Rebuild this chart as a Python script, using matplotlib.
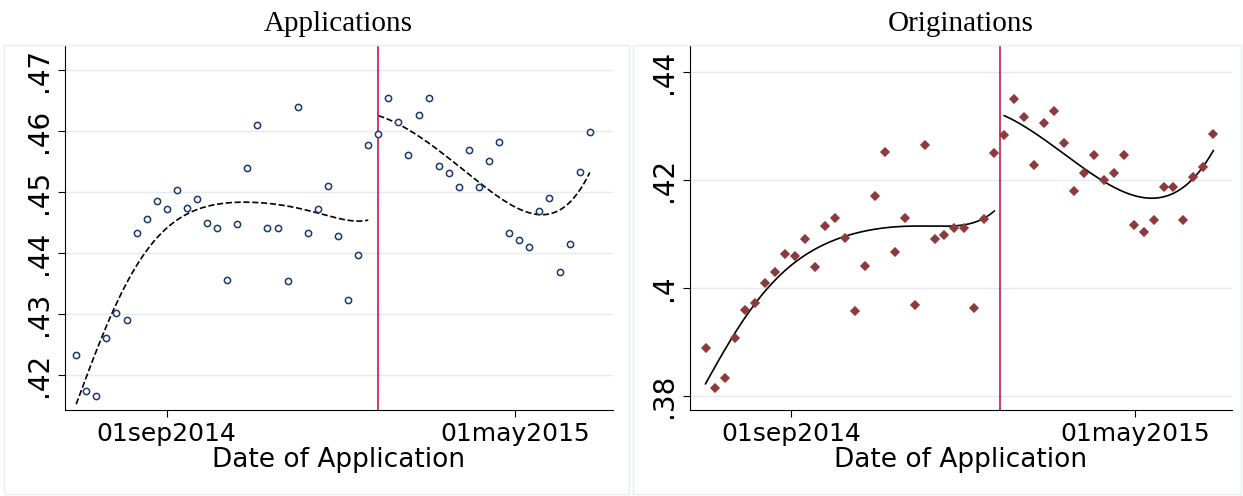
import numpy as np
import pandas as pd
import matplotlib
matplotlib.use("Agg")
import matplotlib.pyplot as plt
from matplotlib.patches import Rectangle

# weekly observations
app_dates = pd.date_range("2014-06-30", periods=52, freq="7D")
app_vals = [.4233, .4175, .4167, .4261, .4302, .4290, .4434, .4457, .4485, .4472,
            .4503, .4475, .4489, .4449, .4441, .4356, .4448, .4539, .4610, .4441,
            .4441, .4354, .4639, .4433, .4472, .4511, .4428, .4323, .4397, .4577,
            .4595, .4654, .4615, .4561, .4626, .4654, .4543, .4531, .4508, .4569,
            .4508, .4552, .4582, .4433, .4421, .4411, .4470, .4490, .4369, .4415,
            .4533, .4598]

org_dates = pd.date_range("2014-07-03", periods=52, freq="7D")
org_vals = [.3889, .3815, .3833, .3907, .3959, .3972, .4009, .4030, .4063, .4059,
            .4091, .4039, .4115, .4130, .4093, .3957, .4041, .4170, .4252, .4067,
            .4130, .3969, .4265, .4091, .4098, .4111, .4111, .3963, .4128, .4250,
            .4283, .4350, .4317, .4228, .4306, .4328, .4269, .4180, .4213, .4246,
            .4200, .4213, .4246, .4117, .4104, .4126, .4187, .4187, .4126, .4205,
            .4224, .4285]

cutoff = pd.Timestamp("2015-01-26")
ref = pd.Timestamp("2014-09-01")

plt.rcParams['font.family'] = ['DejaVu Sans']
fig = plt.figure(figsize=(12.43, 4.96), dpi=100)

# faint panel frames
for x0, w in ((0.003, 0.503), (0.509, 0.489)):
    fig.patches.append(Rectangle((x0, 0.005), w, 0.905, transform=fig.transFigure,
                                 fill=False, edgecolor="#e8ecf0", linewidth=1))


def local_poly(xs, ys, xx, bw):
    # kernel-weighted local quadratic smoother
    out = []
    for x0 in xx:
        w = np.exp(-0.5 * ((xs - x0) / bw) ** 2)
        X = np.vstack([np.ones_like(xs), xs - x0, (xs - x0) ** 2]).T
        W = np.sqrt(w)
        b = np.linalg.lstsq(X * W[:, None], ys * W, rcond=None)[0]
        out.append(b[0])
    return np.array(out)


def panel(rect, dates, vals, title, yticks, ylim, marker, mfc, mec, ms, ls):
    ax = fig.add_axes(rect)
    x = np.array([(d - ref).days for d in dates], dtype=float)
    y = np.array(vals)
    ax.plot(dates, y, linestyle="none", marker=marker, markerfacecolor=mfc,
            markeredgecolor=mec, markersize=ms, markeredgewidth=1.1, zorder=3)
    for mask in (dates < cutoff, dates >= cutoff):
        xs, ys = x[mask], y[mask]
        xx = np.linspace(xs.min(), xs.max(), 200)
        ax.plot([ref + pd.Timedelta(days=v) for v in xx], local_poly(xs, ys, xx, 45),
                color="black", linestyle=ls, linewidth=1.2, zorder=2)
    ax.axvline(cutoff, color="#c8184a", linewidth=1.2)
    ax.set_xlim(ref - pd.Timedelta(days=71), ref + pd.Timedelta(days=310))
    ax.set_ylim(*ylim)
    ax.set_xticks([pd.Timestamp("2014-09-01"), pd.Timestamp("2015-05-01")])
    ax.set_xticklabels(["01sep2014", "01may2015"], fontsize=18)
    ax.set_yticks(yticks)
    ax.set_yticklabels([("%g" % t).lstrip("0") for t in yticks],
                       fontsize=20, rotation=90, va="center")
    ax.grid(axis="y", color="#e6eaee", linewidth=1)
    ax.set_axisbelow(True)
    for s in ("top", "right"):
        ax.spines[s].set_visible(False)
    ax.tick_params(length=5)
    ax.set_xlabel("Date of Application", fontsize=19, labelpad=1)
    ax.set_title(title, fontsize=21, family="Liberation Serif", pad=10)
    return ax


panel([0.052, 0.173, 0.441, 0.736], app_dates, app_vals, "Applications",
      [.42, .43, .44, .45, .46, .47], (.4143, .4741), "o", "white", "#1a3a6e", 4.5, "--")
panel([0.555, 0.173, 0.436, 0.736], org_dates, org_vals, "Originations",
      [.38, .40, .42, .44], (.3774, .445), "D", "#8e3a3c", "#8e3a3c", 4.5, "-")

fig.savefig("out.png", dpi=100)
